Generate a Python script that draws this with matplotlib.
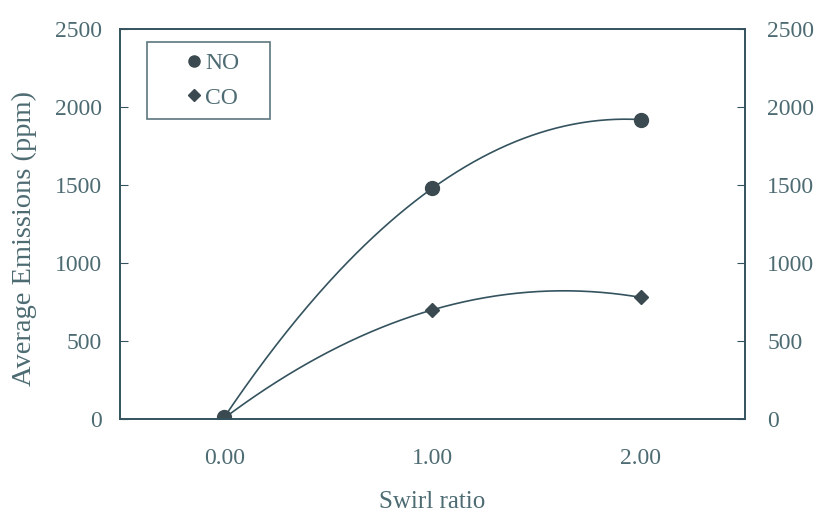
import numpy as np
import matplotlib
matplotlib.use("Agg")
import matplotlib.pyplot as plt

# values
swirl = [0.0, 1.0, 2.0]
no_ppm = [10, 1480, 1920]
co_ppm = [5, 700, 780]
xticks = [0.0, 1.0, 2.0]
xlabels = ["0.00", "1.00", "2.00"]
yticks = [0, 500, 1000, 1500, 2000, 2500]

ink = "#34535e"
txt = "#4d6b72"

plt.rcParams["font.family"] = ["Liberation Serif", "DejaVu Serif"]

fig = plt.figure(figsize=(8.19, 5.15), dpi=100)
ax = fig.add_axes([0.1465, 0.1864, 0.763, 0.757])

# quadratic trend lines through the points (like a spreadsheet trendline)
xs = np.linspace(0, 2, 200)
for yv in (no_ppm, co_ppm):
    c = np.polyfit(swirl, yv, 2)
    ax.plot(xs, np.polyval(c, xs), color=ink, lw=1.2)

ax.plot(swirl, no_ppm, "o", color="#3b4a50", ms=10, ls="none", label="NO")
ax.plot(swirl, co_ppm, "D", color="#3b4a50", ms=7.5, ls="none", label="CO")

ax.set_xlim(-0.5, 2.5)
ax.set_ylim(0, 2500)
ax.set_xticks(xticks)
ax.set_xticklabels(xlabels)
ax.set_yticks(yticks)
ax.tick_params(axis="x", length=0, pad=21, labelsize=17, labelcolor=txt)
ax.tick_params(axis="y", direction="in", length=6, color=ink, labelsize=17,
               labelcolor=txt, pad=13)
for s in ax.spines.values():
    s.set_color(ink)
    s.set_linewidth(1.4)

ax2 = ax.twinx()
ax2.set_ylim(0, 2500)
ax2.set_yticks(yticks)
ax2.tick_params(axis="y", direction="in", length=6, color=ink, labelsize=17,
                labelcolor=txt, pad=16)
for s in ax2.spines.values():
    s.set_visible(False)

ax.set_xlabel("Swirl ratio", fontsize=18, color=txt, labelpad=16)
ax.set_ylabel("Average Emissions (ppm)", fontsize=20.5, color=txt)
ax.yaxis.set_label_coords(-0.133, 0.464)

leg = ax.legend(loc="upper left", bbox_to_anchor=(0.043, 0.967, 0.197, 0.0),
                mode="expand", frameon=True, fancybox=False, fontsize=17,
                handletextpad=-1.08, borderpad=0.45, labelspacing=0.55,
                handlelength=3.1, borderaxespad=0, markerscale=0.8)
leg.get_frame().set_edgecolor(ink)
leg.get_frame().set_linewidth(1.2)
for t in leg.get_texts():
    t.set_color(txt)

fig.savefig("out.png", dpi=100)
